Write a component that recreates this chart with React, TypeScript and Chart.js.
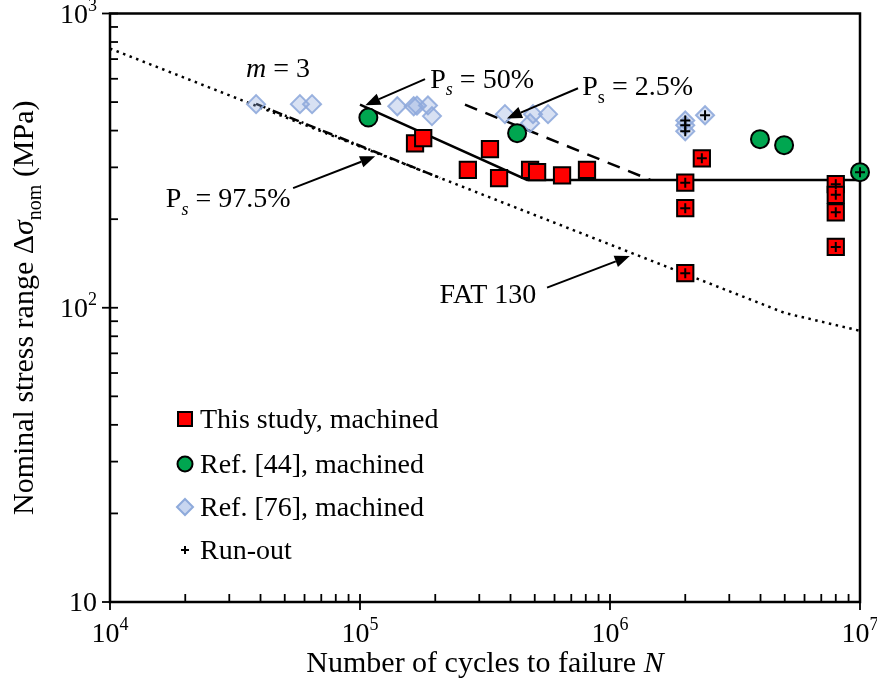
import React, { useEffect, useRef } from "react";
import { Chart, registerables } from "chart.js";

Chart.register(...registerables);

// ---- Data ----
const studyN = [1.66e5, 1.79e5, 2.7e5, 3.31e5, 3.6e5, 4.79e5, 5.11e5, 6.43e5, 8.09e5];
const studyS = [362, 377, 294, 346, 276, 294, 289, 282, 294];
const studyRunN = [2.0e6, 2.0e6, 2.0e6, 2.33e6, 8.0e6, 8.0e6, 8.0e6, 8.0e6];
const studyRunS = [266, 218, 131, 322, 263, 242, 211, 161];

const ref44N = [1.08e5, 4.25e5, 3.98e6, 4.97e6];
const ref44S = [443, 392, 374, 357];
const ref44RunN = [1.0e7];
const ref44RunS = [289];

const ref76N = [3.84e4, 5.75e4, 6.43e4, 1.41e5, 1.64e5, 1.69e5, 1.87e5, 1.94e5, 3.8e5, 4.79e5, 4.92e5, 5.65e5];
const ref76S = [492, 492, 492, 484, 484, 486, 487, 448, 455, 424, 455, 455];
const ref76RunN = [2.0e6, 2.0e6, 2.0e6, 2.4e6];
const ref76RunS = [433, 417, 398, 451];

const fatN = [1e4, 5e6, 1e7];
const fatS = [760, 96, 83.5];
const ps50N = [1e5, 4.66e5, 1e7];
const ps50S = [490, 272, 272];
const ps25N = [2.63e5, 1.45e6];
const ps25S = [490, 272];
const ps975N = [3.84e4, 2.09e5];
const ps975S = [493, 276];

const xMajorTicks = [1e4, 1e5, 1e6, 1e7];
const xMajorExp = ["4", "5", "6", "7"];
const yMajorTicks = [10, 100, 1000];
const yMajorExp = ["", "2", "3"];

const legendLabels = ["This study, machined", "Ref. [44], machined", "Ref. [76], machined", "Run-out"];

type Part = { t: string; it?: boolean; sub?: boolean; sup?: boolean };

const notes: { parts: Part[]; n: number; s: number }[] = [
  { parts: [{ t: "m", it: true }, { t: " = 3" }], n: 4.7e4, s: 652 },
  { parts: [{ t: "P" }, { t: "s", it: true, sub: true }, { t: " = 50%" }], n: 3.08e5, s: 602 },
  { parts: [{ t: "P" }, { t: "s", sub: true }, { t: " = 2.5%" }], n: 1.29e6, s: 566 },
  { parts: [{ t: "P" }, { t: "s", it: true, sub: true }, { t: " = 97.5%" }], n: 2.97e4, s: 236 },
  { parts: [{ t: "FAT 130" }], n: 3.25e5, s: 112 },
];

const arrows: { n0: number; s0: number; n1: number; s1: number }[] = [
  { n0: 1.82e5, s0: 598, n1: 1.05e5, s1: 488 },
  { n0: 7.45e5, s0: 557, n1: 3.87e5, s1: 440 },
  { n0: 5.4e4, s0: 255, n1: 1.15e5, s1: 327 },
  { n0: 5.6e5, s0: 117, n1: 1.2e6, s1: 150 },
];

const FONT = '"Liberation Serif", "Times New Roman", serif';
const FS = 28;
const FT = 30;

function pts(xs: number[], ys: number[]) {
  return xs.map((x, i) => ({ x, y: ys[i] }));
}

function drawParts(ctx: CanvasRenderingContext2D, parts: Part[], x: number, y: number, align: string, size: number) {
  const fontFor = (p: Part) =>
    `${p.it ? "italic " : ""}${p.sub || p.sup ? Math.round(size * 0.66) : size}px ${FONT}`;
  let w = 0;
  for (const p of parts) {
    ctx.font = fontFor(p);
    w += ctx.measureText(p.t).width;
  }
  let cx = align === "center" ? x - w / 2 : align === "right" ? x - w : x;
  const base = y + size * 0.33;
  ctx.textBaseline = "alphabetic";
  ctx.textAlign = "left";
  for (const p of parts) {
    ctx.font = fontFor(p);
    const dy = p.sub ? size * 0.28 : p.sup ? -size * 0.42 : 0;
    ctx.fillText(p.t, cx, base + dy);
    cx += ctx.measureText(p.t).width;
  }
}

const overlay = {
  id: "overlay",
  beforeDatasetsDraw(chart: any) {
    const { ctx, chartArea: a, scales } = chart;
    const xs = scales.x;
    const ys = scales.y;
    ctx.save();
    ctx.strokeStyle = "#000";
    ctx.lineWidth = 2.5;
    ctx.strokeRect(a.left, a.top, a.right - a.left, a.bottom - a.top);
    ctx.lineWidth = 1.8;
    for (let d = 0; d < xMajorTicks.length; d++) {
      const base = xMajorTicks[d];
      const px = xs.getPixelForValue(base);
      ctx.beginPath();
      ctx.moveTo(px, a.bottom - 8);
      ctx.lineTo(px, a.bottom + 8);
      ctx.stroke();
      if (d < xMajorTicks.length - 1) {
        for (let k = 2; k <= 9; k++) {
          const mx = xs.getPixelForValue(base * k);
          ctx.beginPath();
          ctx.moveTo(mx, a.bottom);
          ctx.lineTo(mx, a.bottom - 8);
          ctx.stroke();
        }
      }
    }
    for (let d = 0; d < yMajorTicks.length; d++) {
      const base = yMajorTicks[d];
      const py = ys.getPixelForValue(base);
      ctx.beginPath();
      ctx.moveTo(a.left - 8, py);
      ctx.lineTo(a.left + 8, py);
      ctx.stroke();
      if (d < yMajorTicks.length - 1) {
        for (let k = 2; k <= 9; k++) {
          const my = ys.getPixelForValue(base * k);
          ctx.beginPath();
          ctx.moveTo(a.left, my);
          ctx.lineTo(a.left + 8, my);
          ctx.stroke();
        }
      }
    }
    ctx.restore();
  },
  afterDraw(chart: any) {
    const { ctx, chartArea: a, scales } = chart;
    const xs = scales.x;
    const ys = scales.y;
    ctx.save();
    ctx.fillStyle = "#000";
    ctx.strokeStyle = "#000";
    xMajorTicks.forEach((v, i) => {
      drawParts(ctx, [{ t: "10" }, { t: xMajorExp[i], sup: true }], xs.getPixelForValue(v), a.bottom + 31, "center", FS);
    });
    yMajorTicks.forEach((v, i) => {
      const parts: Part[] = [{ t: "10" }];
      if (yMajorExp[i]) parts.push({ t: yMajorExp[i], sup: true });
      drawParts(ctx, parts, a.left - 13, ys.getPixelForValue(v), "right", FS);
    });
    drawParts(ctx, [{ t: "Number of cycles to failure " }, { t: "N", it: true }], (a.left + a.right) / 2, a.bottom + 60, "center", FT);
    ctx.save();
    ctx.translate(23, (a.top + a.bottom) / 2);
    ctx.rotate(-Math.PI / 2);
    drawParts(
      ctx,
      [{ t: "Nominal stress range Δ" }, { t: "σ", it: true }, { t: "nom", sub: true }, { t: " (MPa)" }],
      0,
      0,
      "center",
      FT
    );
    ctx.restore();
    for (const nt of notes) {
      drawParts(ctx, nt.parts, xs.getPixelForValue(nt.n), ys.getPixelForValue(nt.s), "center", FS);
    }
    ctx.lineWidth = 2;
    for (const ar of arrows) {
      const x0 = xs.getPixelForValue(ar.n0);
      const y0 = ys.getPixelForValue(ar.s0);
      const x1 = xs.getPixelForValue(ar.n1);
      const y1 = ys.getPixelForValue(ar.s1);
      const ang = Math.atan2(y1 - y0, x1 - x0);
      const L = 15;
      const W = 6;
      const bx = x1 - L * Math.cos(ang);
      const by = y1 - L * Math.sin(ang);
      ctx.beginPath();
      ctx.moveTo(x0, y0);
      ctx.lineTo(bx, by);
      ctx.stroke();
      ctx.beginPath();
      ctx.moveTo(x1, y1);
      ctx.lineTo(bx + W * Math.sin(ang), by - W * Math.cos(ang));
      ctx.lineTo(bx - W * Math.sin(ang), by + W * Math.cos(ang));
      ctx.closePath();
      ctx.fill();
    }
    // legend
    const lx = 185;
    const rows = [419, 464, 507, 550];
    ctx.fillStyle = "#ff0000";
    ctx.fillRect(lx - 7, rows[0] - 7, 14, 14);
    ctx.lineWidth = 2;
    ctx.strokeStyle = "#000";
    ctx.strokeRect(lx - 7, rows[0] - 7, 14, 14);
    ctx.beginPath();
    ctx.arc(lx, rows[1], 7.5, 0, Math.PI * 2);
    ctx.fillStyle = "#00a650";
    ctx.fill();
    ctx.stroke();
    ctx.beginPath();
    ctx.moveTo(lx, rows[2] - 8);
    ctx.lineTo(lx + 8, rows[2]);
    ctx.lineTo(lx, rows[2] + 8);
    ctx.lineTo(lx - 8, rows[2]);
    ctx.closePath();
    ctx.fillStyle = "rgba(200,214,240,1)";
    ctx.fill();
    ctx.strokeStyle = "#8eaadb";
    ctx.stroke();
    ctx.strokeStyle = "#000";
    ctx.beginPath();
    ctx.moveTo(lx - 4, rows[3]);
    ctx.lineTo(lx + 4, rows[3]);
    ctx.moveTo(lx, rows[3] - 4);
    ctx.lineTo(lx, rows[3] + 4);
    ctx.stroke();
    ctx.fillStyle = "#000";
    legendLabels.forEach((t, i) => drawParts(ctx, [{ t }], 200, rows[i], "left", FS));
    ctx.restore();
  },
};

export default function App() {
  const ref = useRef<HTMLCanvasElement | null>(null);
  useEffect(() => {
    if (!ref.current) return;
    const lineBase = { type: "line", showLine: true, pointRadius: 0, borderColor: "#000", borderWidth: 2.5, fill: false, tension: 0, clip: false } as any;
    const chart = new Chart(ref.current, {
      type: "scatter",
      data: {
        datasets: [
          { ...lineBase, label: "FAT", data: pts(fatN, fatS), borderDash: [2.5, 4.5], order: 10 },
          { ...lineBase, label: "P97.5", data: pts(ps975N, ps975S), borderDash: [10, 3, 2, 3], order: 9 },
          { ...lineBase, label: "P50", data: pts(ps50N, ps50S), order: 8 },
          { ...lineBase, label: "P2.5", data: pts(ps25N, ps25S), borderDash: [13, 9], order: 7 },
          {
            label: "Ref76",
            data: pts(ref76N.concat(ref76RunN), ref76S.concat(ref76RunS)),
            pointStyle: "rectRot",
            pointRadius: 9,
            backgroundColor: "rgba(143,170,220,0.35)",
            borderColor: "rgba(143,170,220,0.9)",
            borderWidth: 2,
            clip: false,
            order: 6,
          } as any,
          {
            label: "Ref44",
            data: pts(ref44N.concat(ref44RunN), ref44S.concat(ref44RunS)),
            pointStyle: "circle",
            pointRadius: 9,
            backgroundColor: "#00a650",
            borderColor: "#000",
            borderWidth: 2,
            clip: false,
            order: 5,
          } as any,
          {
            label: "Study",
            data: pts(studyN.concat(studyRunN), studyS.concat(studyRunS)),
            pointStyle: "rect",
            pointRadius: 11.5,
            backgroundColor: "#ff0000",
            borderColor: "#000",
            borderWidth: 2,
            clip: false,
            order: 4,
          } as any,
          {
            label: "Run-out",
            data: pts(studyRunN.concat(ref44RunN, ref76RunN), studyRunS.concat(ref44RunS, ref76RunS)),
            pointStyle: "cross",
            pointRadius: 5,
            borderColor: "#000",
            borderWidth: 2,
            clip: false,
            order: 1,
          } as any,
        ],
      },
      options: {
        animation: false,
        responsive: false,
        layout: { padding: { left: 0, right: 17, top: 12, bottom: 0 } },
        plugins: { legend: { display: false }, tooltip: { enabled: false } },
        scales: {
          x: {
            type: "logarithmic",
            min: 1e4,
            max: 1e7,
            ticks: { display: false },
            grid: { display: false },
            border: { display: false },
            afterFit: (s: any) => {
              s.height = 86;
            },
          },
          y: {
            type: "logarithmic",
            min: 10,
            max: 1000,
            ticks: { display: false },
            grid: { display: false },
            border: { display: false },
            afterFit: (s: any) => {
              s.width = 110;
            },
          },
        },
      } as any,
      plugins: [overlay],
    });
    return () => chart.destroy();
  }, []);
  return (
    <div style={{ position: "fixed", left: 0, top: 0, width: 877, height: 688, background: "#fff" }}>
      <canvas ref={ref} width={877} height={688} style={{ display: "block", width: 877, height: 688 }} />
    </div>
  );
}
